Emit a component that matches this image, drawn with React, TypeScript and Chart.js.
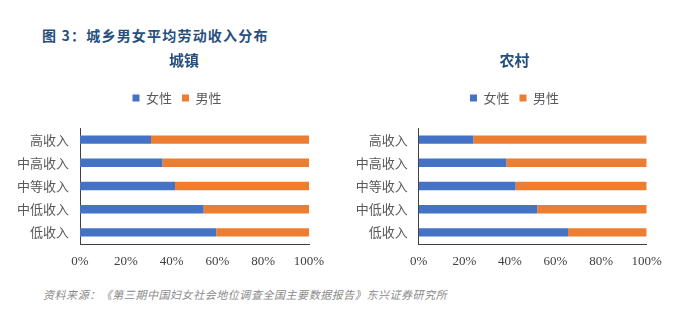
import { useEffect, useRef } from "react";
import { Chart, registerables } from "chart.js";

Chart.register(...registerables);

const categories = ["高收入", "中高收入", "中等收入", "中低收入", "低收入"];
const seriesNames = ["女性", "男性"];
const urbanFemale = [31, 36, 41.5, 54, 59.5];
const urbanMale = [69, 64, 58.5, 46, 40.5];
const ruralFemale = [24, 38.5, 42.5, 52, 65.5];
const ruralMale = [76, 61.5, 57.5, 48, 34.5];
const xTicks = [0, 20, 40, 60, 80, 100];
const pageTitle = "图 3：城乡男女平均劳动收入分布";
const panelTitles = ["城镇", "农村"];
const sourceText = "资料来源：《第三期中国妇女社会地位调查全国主要数据报告》东兴证券研究所";

const CJK = '"Noto Sans CJK SC", "Noto Sans", sans-serif';
const SERIF = '"Liberation Serif", "DejaVu Serif", serif';
const BLUE = "#4472C4";
const ORANGE = "#ED7D31";
const CANVAS_W = 340;
const CANVAS_H = 240;

type PanelProps = {
  title: string;
  female: number[];
  male: number[];
  left: number;
  padL: number;
  padR: number;
  yWidth: number;
  titleCenter: number;
  legendCenter: number;
};

function Panel({ title, female, male, left, padL, padR, yWidth, titleCenter, legendCenter }: PanelProps) {
  const ref = useRef<HTMLCanvasElement | null>(null);
  useEffect(() => {
    if (!ref.current) return;
    const headerPlacer = {
      id: "headerPlacer",
      beforeInit(chart: any) {
        const lg = chart.legend;
        if (!lg) return;
        const orig = lg.fit;
        lg.fit = function () {
          orig.bind(lg)();
          this.height += 13.5;
        };
      },
      afterLayout(chart: any) {
        const shift = (box: any, c: number) => {
          if (!box) return;
          const dx = c - (box.left + box.right) / 2;
          box.left += dx;
          box.right += dx;
        };
        shift(chart.titleBlock, titleCenter);
        shift(chart.legend, legendCenter);
      },
    };
    const chart = new Chart(ref.current, {
      type: "bar",
      data: {
        labels: categories,
        datasets: [
          {
            label: seriesNames[0],
            data: female,
            backgroundColor: BLUE,
            barPercentage: 0.36,
            categoryPercentage: 1,
          },
          {
            label: seriesNames[1],
            data: male,
            backgroundColor: ORANGE,
            barPercentage: 0.36,
            categoryPercentage: 1,
          },
        ],
      },
      plugins: [headerPlacer],
      options: {
        indexAxis: "y",
        animation: false,
        responsive: false,
        maintainAspectRatio: false,
        layout: { padding: { left: padL, right: padR, top: 0, bottom: 0 } },
        plugins: {
          title: {
            display: true,
            text: title,
            color: "#264f7d",
            font: { family: CJK, size: 15, weight: "bold" },
            padding: { top: 6, bottom: 12.5 },
          },
          legend: {
            position: "top",
            labels: {
              boxWidth: 7,
              boxHeight: 7,
              padding: 10,
              color: "#595959",
              font: { family: CJK, size: 13 },
            },
          },
          tooltip: { enabled: false },
        },
        scales: {
          x: {
            stacked: true,
            min: 0,
            max: 100,
            afterBuildTicks: (s: any) => {
              s.ticks = xTicks.map((v) => ({ value: v }));
            },
            afterFit: (s: any) => {
              s.height = 41;
            },
            ticks: {
              callback: (v: any) => v + "%",
              color: "#404040",
              font: { family: SERIF, size: 13 },
              padding: 10,
              maxRotation: 0,
            },
            grid: { display: false, drawTicks: false },
            border: { display: true, color: "#404040", width: 1 },
          },
          y: {
            stacked: true,
            afterFit: (s: any) => {
              s.width = yWidth;
            },
            ticks: {
              color: "#595959",
              font: { family: CJK, size: 13 },
              padding: 11,
            },
            grid: { display: false, drawTicks: false },
            border: { display: true, color: "#404040", width: 1 },
          },
        },
      } as any,
    });
    return () => chart.destroy();
  }, []);
  return (
    <canvas
      ref={ref}
      width={CANVAS_W}
      height={CANVAS_H}
      style={{ position: "absolute", left, top: 45, width: CANVAS_W, height: CANVAS_H }}
    />
  );
}

export default function App() {
  useEffect(() => {
    document.body.style.margin = "0";
  }, []);
  return (
    <div
      style={{
        position: "relative",
        width: 680,
        height: 329,
        background: "#ffffff",
        overflow: "hidden",
      }}
    >
      <div
        style={{
          position: "absolute",
          left: 42,
          top: 25,
          fontFamily: CJK,
          fontWeight: "bold",
          fontSize: 14,
          letterSpacing: "1.2px",
          color: "#264f7d",
          whiteSpace: "nowrap",
          lineHeight: "20px",
        }}
      >
        {pageTitle}
      </div>
      <Panel
        title={panelTitles[0]}
        female={urbanFemale}
        male={urbanMale}
        left={0}
        padL={8}
        padR={31}
        yWidth={72}
        titleCenter={184}
        legendCenter={177}
      />
      <Panel
        title={panelTitles[1]}
        female={ruralFemale}
        male={ruralMale}
        left={340}
        padL={8}
        padR={33.3}
        yWidth={70.7}
        titleCenter={174.5}
        legendCenter={174.5}
      />
      <div
        style={{
          position: "absolute",
          left: 43,
          top: 286,
          fontFamily: CJK,
          fontStyle: "italic",
          fontSize: 11,
          letterSpacing: "0.55px",
          color: "#8a8a8a",
          whiteSpace: "nowrap",
          lineHeight: "16px",
        }}
      >
        {sourceText}
      </div>
    </div>
  );
}
